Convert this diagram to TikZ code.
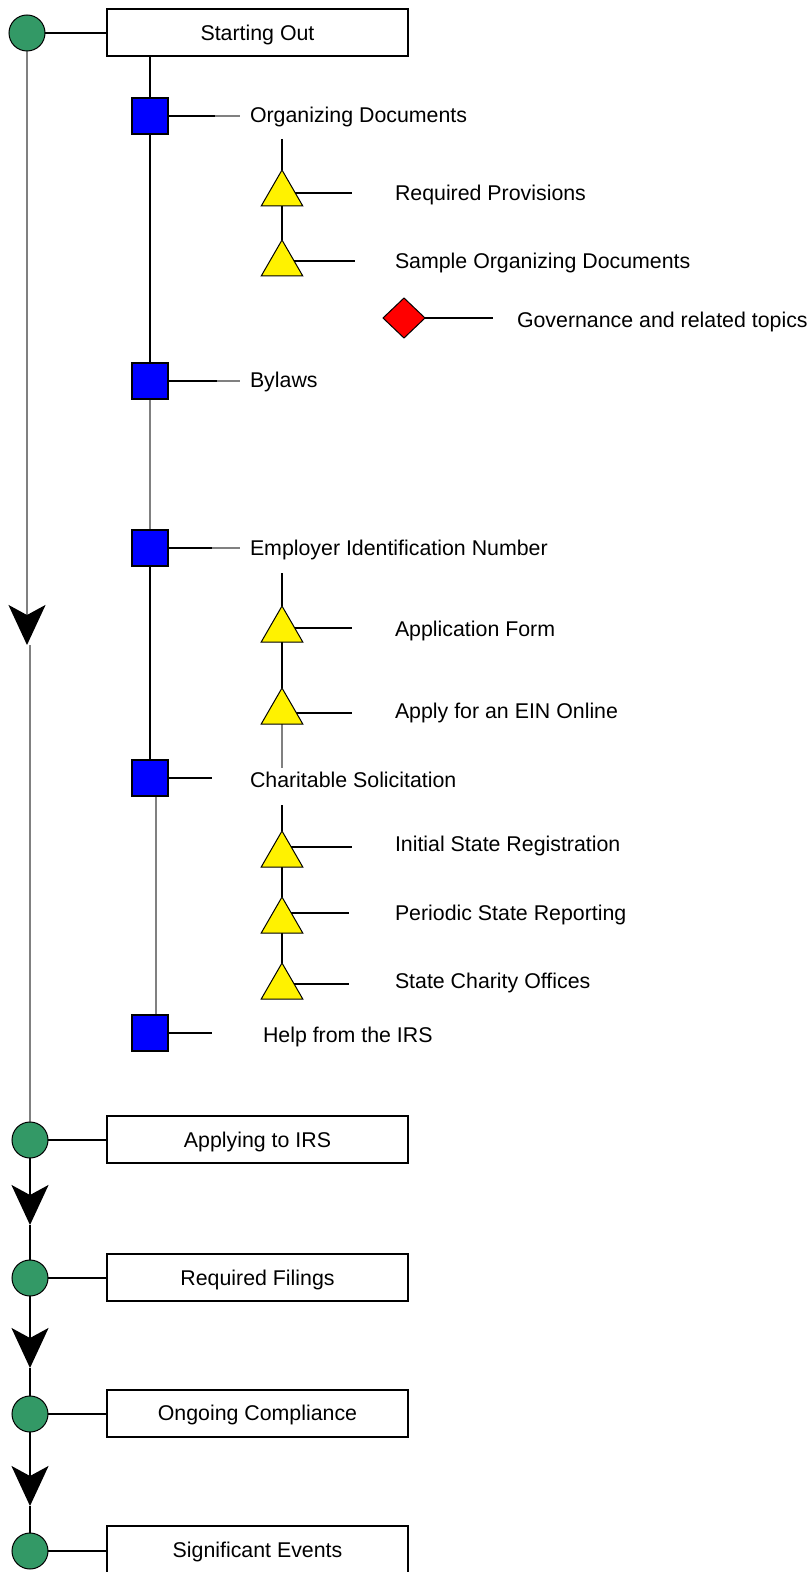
\documentclass[tikz,border=0pt]{standalone}
\usepackage{fontspec}
\setmainfont{Liberation Sans}
\usetikzlibrary{shapes.geometric,arrows.meta,calc}
\pgfdeclarelayer{bg}
\pgfsetlayers{bg,main}
\definecolor{cgreen}{RGB}{51,153,102}
\definecolor{lgrey}{RGB}{128,128,128}
\begin{document}
\begin{tikzpicture}[x=0.5pt,y=-0.5pt,
  every node/.style={inner sep=0pt,outer sep=0pt},
  milestone/.style={circle,draw=black,line width=0.5pt,fill=cgreen,minimum size=18pt},
  phasebox/.style={rectangle,draw=black,line width=1pt,fill=white,minimum width=150.5pt,minimum height=23.5pt,font=\fontsize{10.67}{12}\selectfont,text height=7.6pt,text depth=0pt},
  topicsq/.style={rectangle,draw=black,line width=1pt,fill=blue,minimum size=18pt},
  subtri/.style={regular polygon,regular polygon sides=3,draw=black,line width=0.5pt,fill=yellow,minimum size=24pt},
  refdia/.style={diamond,draw=black,line width=0.5pt,fill=red,minimum width=21pt,minimum height=20pt},
  lbl/.style={anchor=west,font=\fontsize{10.67}{12}\selectfont,text height=7.6pt,text depth=0pt},
  blk/.style={draw=black,line width=1pt},
  gry/.style={draw=lgrey,line width=1pt},
  bigarrow/.style={-{Stealth[length=20pt,width=18.5pt,inset=5pt,color=black,fill=black]}}
]
\useasboundingbox (0,0) rectangle (809,1572);

% milestones and phase boxes
\node[milestone] (c1) at (27,33) {};
\node[phasebox] (so) at (257.5,32.5) {Starting Out};
\node[milestone] (c2) at (30,1140) {};
\node[phasebox] (ap) at (257.5,1139.5) {Applying to IRS};
\node[milestone] (c3) at (30,1278) {};
\node[phasebox] (rf) at (257.5,1277.5) {Required Filings};
\node[milestone] (c4) at (30,1414) {};
\node[phasebox] (oc) at (257.5,1413) {Ongoing Compliance};
\node[milestone] (c5) at (30,1551) {};
\node[phasebox] (se) at (257.5,1549.5) {Significant Events};

% topic squares
\node[topicsq] (sq1) at (150,116) {};
\node[topicsq] (sq2) at (150,381) {};
\node[topicsq] (sq3) at (150,548) {};
\node[topicsq] (sq4) at (150,778) {};
\node[topicsq] (sq5) at (150,1033) {};
\node[lbl] (l1) at (250,115) {Organizing Documents};
\node[lbl] (l2) at (250,380) {Bylaws};
\node[lbl] (l3) at (250,548) {Employer Identification Number};
\node[lbl] (l4) at (250,780) {Charitable Solicitation};
\node[lbl] (l5) at (263,1035) {Help from the IRS};

% triangles
\node[subtri] (t1) at (282,194) {};
\node[subtri] (t2) at (282,264) {};
\node[subtri] (t3) at (282,630) {};
\node[subtri] (t4) at (282,712) {};
\node[subtri] (t5) at (282,855) {};
\node[subtri] (t6) at (282,921) {};
\node[subtri] (t7) at (282,987) {};
\node[lbl] (r1) at (395,193) {Required Provisions};
\node[lbl] (r2) at (395,261) {Sample Organizing Documents};
\node[lbl] (r3) at (395,629) {Application Form};
\node[lbl] (r4) at (395,711) {Apply for an EIN Online};
\node[lbl] (r5) at (395,844) {Initial State Registration};
\node[lbl] (r6) at (395,913) {Periodic State Reporting};
\node[lbl] (r7) at (395,981) {State Charity Offices};

% diamond
\node[refdia] (d1) at (404,318) {};
\node[lbl] (g1) at (517,320) {Governance and related topics};

% free ends
\coordinate (a1) at (27,645);
\coordinate (a1b) at (30,645);
\coordinate (a2) at (30,1225);
\coordinate (a3) at (30,1368);
\coordinate (a4) at (30,1506);
\coordinate (e1a) at (215,116); \coordinate (e1b) at (240,116);
\coordinate (e2a) at (217,381); \coordinate (e2b) at (240,381);
\coordinate (e3a) at (212,548); \coordinate (e3b) at (240,548);
\coordinate (e4) at (212,778);
\coordinate (e5) at (212,1033);
\coordinate (v1) at (282,139);
\coordinate (v3) at (282,573);
\coordinate (v4) at (282,768);
\coordinate (v5) at (282,805);
\coordinate (h1) at (352,193);
\coordinate (h2) at (355,261);
\coordinate (h3) at (352,628);
\coordinate (h4) at (352,713);
\coordinate (h5) at (352,847);
\coordinate (h6) at (349,913);
\coordinate (h7) at (349,984);
\coordinate (hd) at (493,318);

\begin{pgfonlayer}{bg}
% milestone to box
\draw[blk] (c1.east) -- (c1.east -| so.west);
\draw[blk] (c2.east) -- (c2.east -| ap.west);
\draw[blk] (c3.east) -- (c3.east -| rf.west);
\draw[blk] (c4.east) -- (c4.east -| oc.west);
\draw[blk] (c5.east) -- (c5.east -| se.west);
% main timeline
\draw[gry,bigarrow] (c1.south) -- (a1);
\draw[gry] (a1b) -- (c2.north);
\draw[blk,bigarrow] (c2.south) -- (a2);
\draw[blk] (a2) -- (c3.north);
\draw[blk,bigarrow] (c3.south) -- (a3);
\draw[blk] (a3) -- (c4.north);
\draw[blk,bigarrow] (c4.south) -- (a4);
\draw[blk] (a4) -- (c5.north);
% topic chain
\draw[blk] (sq1.north |- so.south) -- (sq1.north);
\draw[blk] (sq1) -- (sq2);
\draw[gry] (sq2) -- (sq3);
\draw[blk] (sq3) -- (sq4);
\draw[gry] ($(sq4.south)+(6,0)$) -- ($(sq5.north)+(6,0)$);
% topic spurs
\draw[blk] (sq1.east) -- (e1a);
\draw[gry] (e1a) -- (e1b);
\draw[blk] (sq2.east) -- (e2a);
\draw[gry] (e2a) -- (e2b);
\draw[blk] (sq3.east) -- (e3a);
\draw[gry] (e3a) -- (e3b);
\draw[blk] (sq4.east) -- (e4);
\draw[blk] (sq5.east) -- (e5);
% triangle chains
\draw[blk] (v1) -- (t1.north);
\draw[blk] (t1.south) -- (t2.north);
\draw[blk] (v3) -- (t3.north);
\draw[blk] (t3.south) -- (t4.north);
\draw[gry] (t4.south) -- (v4);
\draw[blk] (v5) -- (t5.north);
\draw[blk] (t5.south) -- (t6.north);
\draw[blk] (t6.south) -- (t7.north);
% triangle spurs
\draw[blk] (t1.center |- h1) -- (h1);
\draw[blk] (t2.center |- h2) -- (h2);
\draw[blk] (t3.center |- h3) -- (h3);
\draw[blk] (t4.center |- h4) -- (h4);
\draw[blk] (t5.center |- h5) -- (h5);
\draw[blk] (t6.center |- h6) -- (h6);
\draw[blk] (t7.center |- h7) -- (h7);
\draw[blk] (d1.east) -- (hd);
\end{pgfonlayer}
\end{tikzpicture}
\end{document}
